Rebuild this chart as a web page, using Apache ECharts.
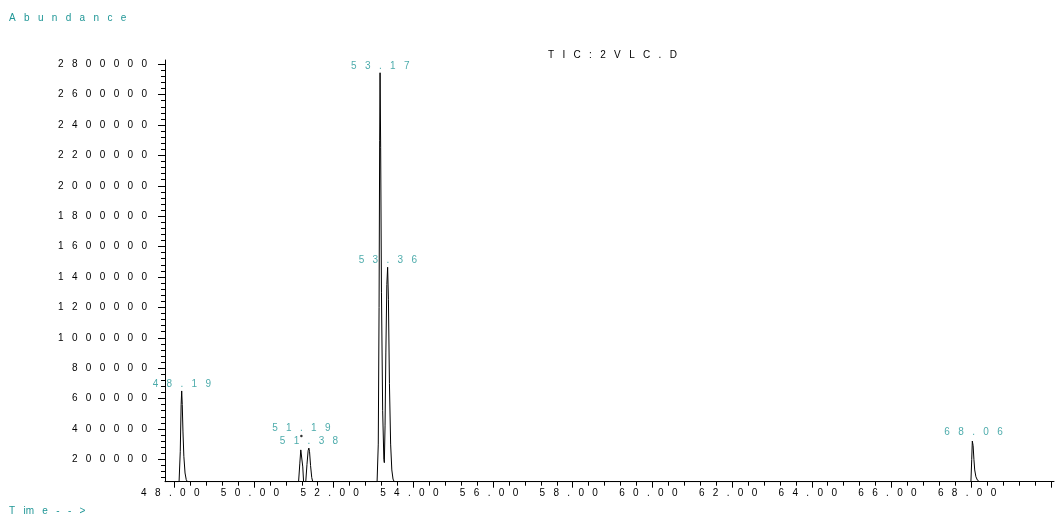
<!DOCTYPE html>
<html>
<head>
<meta charset="utf-8">
<script src="https://cdn.jsdelivr.net/npm/echarts@6/dist/echarts.min.js"></script>
<style>
html,body{margin:0;padding:0;background:#fff;}
#chart{width:1058px;height:518px;}
</style>
</head>
<body>
<div id="chart"></div>
<script>
// ---- data ----
const timeLabelTicks = [48, 50, 52, 54, 56, 58, 60, 62, 64, 66, 68];
const timeMajorTicks = [48, 50, 52, 54, 56, 58, 60, 62, 64, 66, 68, 70];
const abundanceTicks = [200000, 400000, 600000, 800000, 1000000, 1200000, 1400000,
  1600000, 1800000, 2000000, 2200000, 2400000, 2600000, 2800000];

const traceTime = [
  47.767, 48.12, 48.15, 48.172, 48.186, 48.2, 48.218, 48.24, 48.27, 48.3, 48.33,
  51.12, 51.15, 51.175, 51.19, 51.205, 51.225, 51.245,
  51.3, 51.33, 51.36, 51.378, 51.395, 51.42, 51.45, 51.475,
  53.09, 53.12, 53.14, 53.155, 53.165, 53.18, 53.2, 53.23, 53.26, 53.272, 53.29, 53.31, 53.335, 53.355, 53.375, 53.4, 53.43, 53.46, 53.49, 53.52,
  67.995, 68.015, 68.03, 68.037, 68.05, 68.07, 68.09, 68.12, 68.16, 68.21
];
const traceAbundance = [
  52700, 52700, 250000, 560000, 650000, 560000, 380000, 220000, 110000, 66000, 52700,
  52700, 170000, 262000, 274000, 262000, 150000, 52700,
  52700, 165000, 258000, 274000, 250000, 160000, 80000, 52700,
  52700, 300000, 1200000, 2300000, 2744000, 2250000, 1300000, 520000, 200000, 178000, 420000, 900000, 1350000, 1464000, 1250000, 700000, 300000, 130000, 70000, 52700,
  52700, 200000, 320000, 332000, 290000, 200000, 130000, 85000, 62000, 52700
];

const peakLabels = ['48.19', '51.19', '51.38', '53.17', '53.36', '68.06'];
const peakLabelAbundance = [650000, 353000, 274000, 2744000, 1464000, 332000];

// ---- styling ----
const TEAL = '#1f9696';
const FONT = 'Liberation Sans';
const spaced = s => String(s).split('').join('   ');

const xMin = 47.767, xMax = 70.08;
const yMin = 52700, yMax = 2828000;

const timeMinorTicks = [];
for (let i = 0; i <= 55; i++) {
  const v = +(48 + i * 0.4).toFixed(2);
  if (v <= 70 && timeMajorTicks.indexOf(v) < 0) timeMinorTicks.push(v);
}
const abundanceMinorTicks = [];
for (let v = 80000; v <= 2800000; v += 40000) {
  if (abundanceTicks.indexOf(v) < 0) abundanceMinorTicks.push(v);
}

const chart = echarts.init(document.getElementById('chart'));
chart.setOption({
  animation: false,
  backgroundColor: '#fff',
  grid: { left: 165, right: 4, top: 60, bottom: 36.3, containLabel: false },
  xAxis: [
    {
      type: 'value', min: xMin, max: xMax, position: 'bottom',
      axisLine: { show: true, onZero: false, lineStyle: { color: '#000', width: 1 } },
      axisTick: { show: true, customValues: timeMajorTicks, length: 6, lineStyle: { color: '#000', width: 1 } },
      axisLabel: {
        show: true, customValues: timeLabelTicks, margin: 7, color: '#000',
        fontFamily: FONT, fontSize: 10, padding: [0, 8, 0, 0],
        formatter: v => spaced(Number(v).toFixed(2))
      },
      splitLine: { show: false }
    },
    {
      type: 'value', min: xMin, max: xMax, position: 'bottom', offset: 0,
      axisLine: { show: false },
      axisTick: { show: true, customValues: timeMinorTicks, length: 4, lineStyle: { color: '#000', width: 1 } },
      axisLabel: { show: false },
      splitLine: { show: false }
    }
  ],
  yAxis: [
    {
      type: 'value', min: yMin, max: yMax, position: 'left',
      axisLine: { show: true, onZero: false, lineStyle: { color: '#000', width: 1 } },
      axisTick: { show: true, customValues: abundanceTicks, length: 7, lineStyle: { color: '#000', width: 1 } },
      axisLabel: {
        show: true, customValues: abundanceTicks, margin: 18, color: '#000',
        fontFamily: FONT, fontSize: 10,
        formatter: v => spaced(v)
      },
      splitLine: { show: false }
    },
    {
      type: 'value', min: yMin, max: yMax, position: 'left', offset: 0,
      axisLine: { show: false },
      axisTick: { show: true, customValues: abundanceMinorTicks, length: 4, lineStyle: { color: '#000', width: 1 } },
      axisLabel: { show: false },
      splitLine: { show: false }
    }
  ],
  graphic: [
    { type: 'text', x: 9, y: 18.5, style: { text: spaced('Abundance'), fill: TEAL, font: '10px "' + FONT + '"', verticalAlign: 'middle' } },
    { type: 'text', x: 9, y: 511.5, style: { text: 'T   im   e   -   -   >', fill: TEAL, font: '10px "' + FONT + '"', verticalAlign: 'middle' } },
    { type: 'text', x: 548, y: 55, style: { text: 'T   I   C   :   2   V   L   C   .   D', fill: '#000', font: '10px "' + FONT + '"', verticalAlign: 'middle' } }
  ],
  series: [
    {
      type: 'line', xAxisIndex: 0, yAxisIndex: 0,
      data: traceTime.map((t, i) => [t, traceAbundance[i]]),
      showSymbol: false, symbol: 'none', smooth: false,
      lineStyle: { color: '#000', width: 1 },
      clip: true, z: 3
    },
    {
      type: 'scatter', xAxisIndex: 0, yAxisIndex: 0,
      data: peakLabels.map((s, i) => ({
        value: [parseFloat(s), peakLabelAbundance[i]],
        symbolSize: s === '51.19' ? 2.5 : 0
      })),
      itemStyle: { color: '#000' },
      label: {
        show: true, position: 'top', distance: 2, color: TEAL,
        fontFamily: FONT, fontSize: 10,
        formatter: p => spaced(peakLabels[p.dataIndex])
      },
      z: 4
    }
  ]
});
</script>
</body>
</html>
